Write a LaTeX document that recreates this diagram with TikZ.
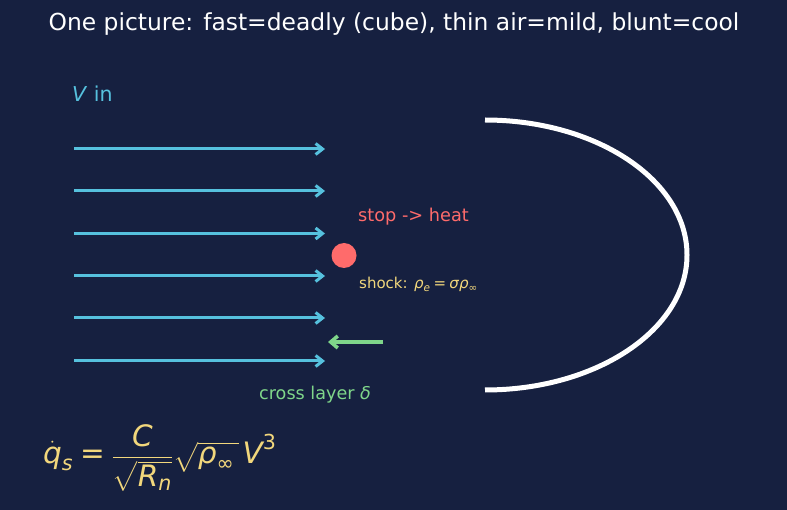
\documentclass[tikz,border=0pt]{standalone}
\usepackage{amsmath}
\usepackage{fontspec}
\setmainfont{DejaVu Sans}
\usetikzlibrary{arrows.meta}
\definecolor{bg}{HTML}{162040}
\definecolor{flow}{HTML}{56C1DE}
\definecolor{hot}{HTML}{FF6B6B}
\definecolor{gold}{HTML}{F2D77C}
\definecolor{grn}{HTML}{7FD68A}
\newcommand\mi[1]{\text{\itshape #1}}
\newcommand\ru[1]{\text{\upshape #1}}
\tikzset{
  flowarrow/.style={draw=flow, line width=3pt, -{Straight Barb[length=7pt,width=11pt,line width=3pt]}},
  backarrow/.style={draw=grn, line width=3.6pt, -{Straight Barb[length=7pt,width=12pt,line width=3.6pt]}},
  lbl/.style={inner sep=0pt, anchor=west},
}
\begin{document}
\begin{tikzpicture}[x=1pt,y=-1pt]
\fill[bg] (0,0) rectangle (787,510);
\useasboundingbox (0,0) rectangle (787,510);
\node[inner sep=0pt, text=white, font=\fontsize{23.4}{28}\selectfont] (title) at (394,24) {One picture: fast=deadly (cube), thin air=mild, blunt=cool};
\node[lbl, text=flow, font=\fontsize{20.5}{24}\selectfont] (vin) at (72,94) {\textit{V} in};
\foreach \i/\y in {1/149,2/191,3/233.5,4/276,5/318,6/361}{
  \coordinate (s\i) at (74,\y);
  \coordinate (e\i) at (325,\y);
  \draw[flowarrow] (s\i) -- (e\i);
}
\node[lbl, text=hot, font=\fontsize{17.7}{21}\selectfont] (stop) at (358,216.5) {stop -> heat};
\node[circle, fill=hot, minimum size=25pt, inner sep=0pt] (dot) at (344,255.5) {};
\node[lbl, text=gold, font=\fontsize{15}{18}\selectfont] (shock) at (359,284.5) {shock: $\mi{ρ}_{\mi{e}} \mathbin{\ru{=}} \mi{σρ}_{\ru{∞}}$};
\coordinate (gs) at (383,342);
\coordinate (ge) at (328,342);
\draw[backarrow] (gs) -- (ge);
\node[lbl, text=grn, font=\fontsize{17.6}{21}\selectfont] (cross) at (259,394.5) {cross layer \textit{δ}};
\draw[white, line width=5pt] (485,120) arc[start angle=-90, end angle=90, x radius=202, y radius=135];
\node[lbl, text=gold, font=\fontsize{29.5}{35}\selectfont] (eq) at (43,458)
  {$\dot{\mi{q}}_{\mi{s}} \mathrel{\ru{=}} \dfrac{\mi{C}}{\sqrt{\mi{R}_{\mi{n}}}}\sqrt{\mi{ρ}_{\ru{∞}}\,}\,\mi{V}^{\ru{3}}$};
\end{tikzpicture}
\end{document}
